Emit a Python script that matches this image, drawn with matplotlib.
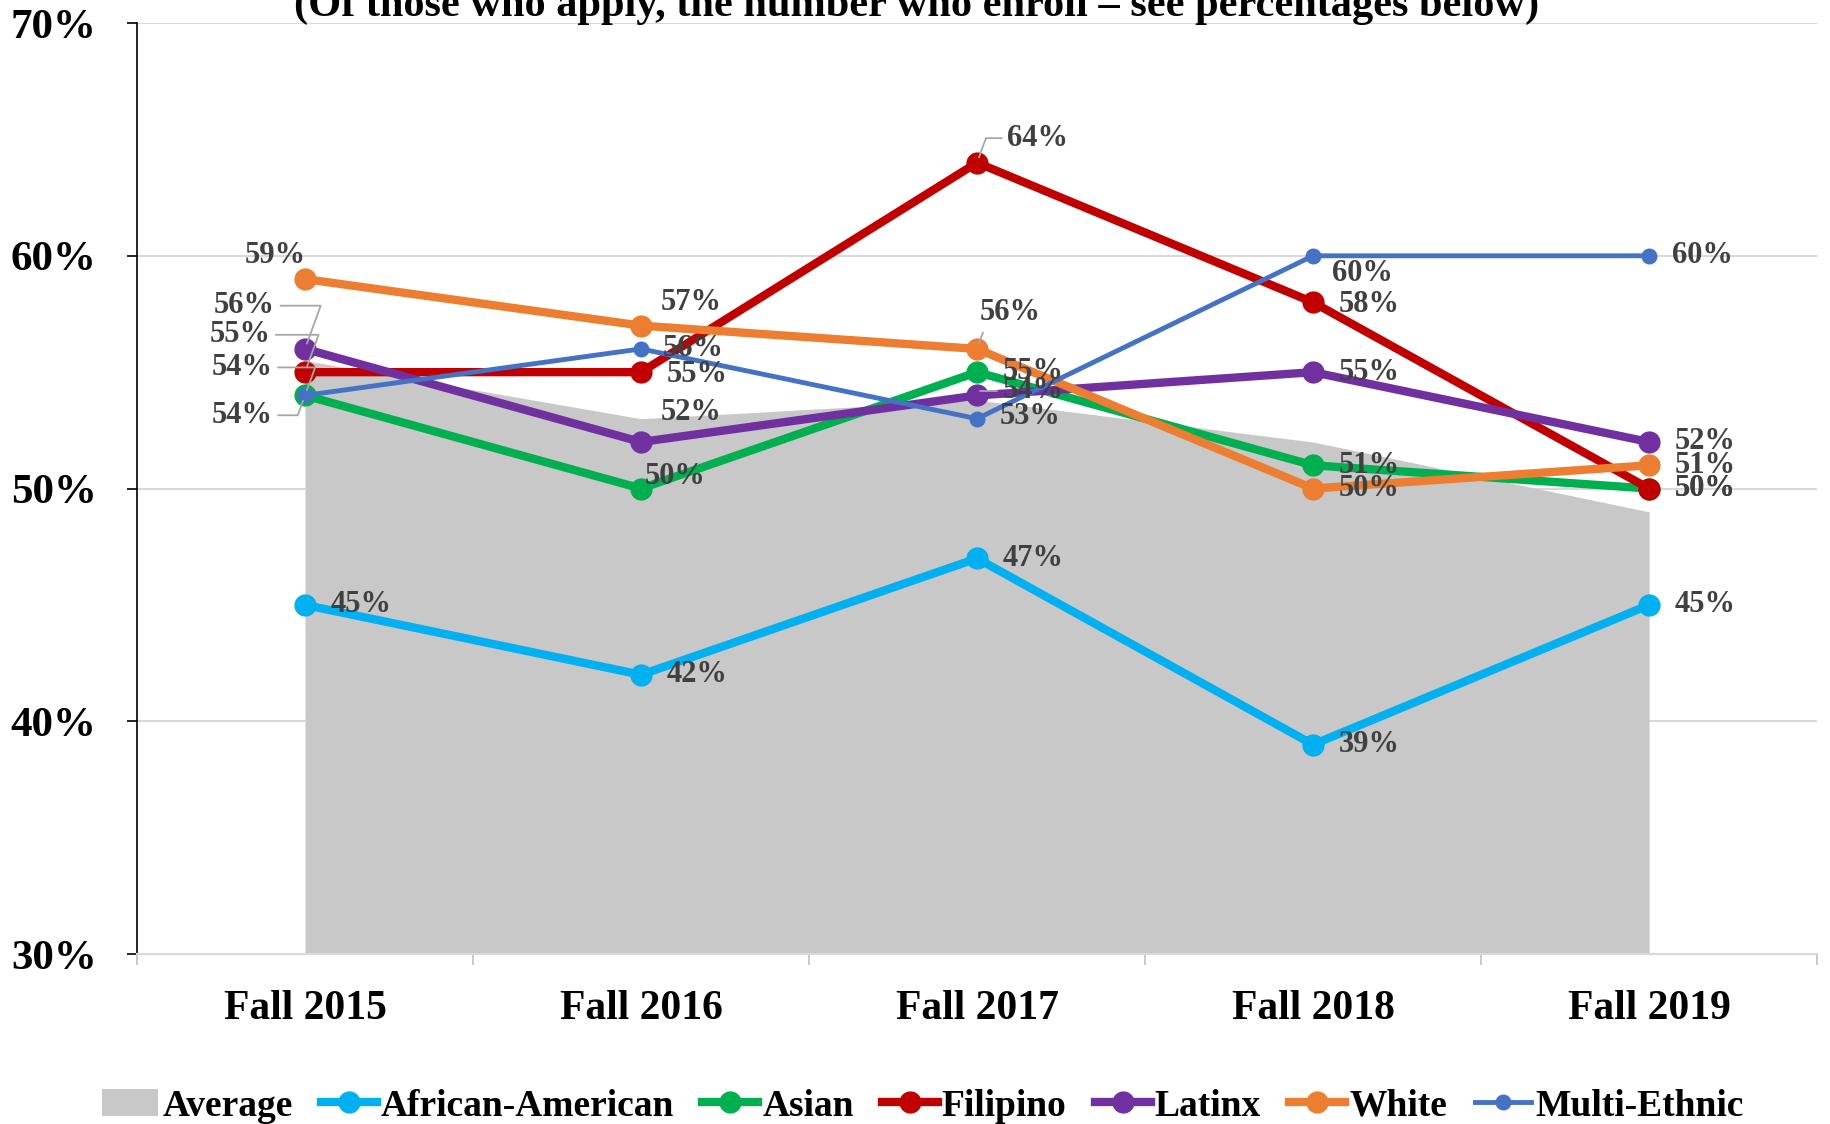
import matplotlib
matplotlib.use("Agg")
import matplotlib.pyplot as plt
from matplotlib.patches import Patch
from matplotlib.lines import Line2D

# Data (enrollment yield, %)
terms = ["Fall 2015", "Fall 2016", "Fall 2017", "Fall 2018", "Fall 2019"]
average = [55.5, 53.0, 53.8, 52.0, 49.0]
african_american = [45, 42, 47, 39, 45]
asian = [54, 50, 55, 51, 50]
filipino = [55, 55, 64, 58, 50]
latinx = [56, 52, 54, 55, 52]
white = [59, 57, 56, 50, 51]
multi_ethnic = [54, 56, 53, 60, 60]

title = "(Of those who apply, the number who enroll \u2013 see percentages below)"

# Style: name, values, colour, linewidth, markersize, label offsets (px in shrunk ref), leader flags
series = [
    ("African-American", african_american, "#00B0F0", 6.0, 15,
     [(22, 0), (22, 0), (22, 0), (22, 0), (22, 0)], [0, 0, 0, 0, 0]),
    ("Asian", asian, "#00B050", 6.0, 15,
     [(-80, 17), (3, -10), (22, -1), (22, 0), (22, 0)], [1, 0, 0, 0, 0]),
    ("Filipino", filipino, "#C00000", 6.0, 15,
     [(-82, -32), (22, 2), (26, -21), (22, 2), (22, 0)], [1, 0, 1, 0, 0]),
    ("Latinx", latinx, "#7030A0", 6.0, 15,
     [(-78, -37), (17, -25), (22, -4), (22, 0), (22, 0)], [1, 0, 1, 0, 0]),
    ("White", white, "#ED7D31", 6.0, 15,
     [(-52, -20), (17, -20), (2, -31), (22, 0), (22, 0)], [0, 0, 1, 0, 0]),
    ("Multi-Ethnic", multi_ethnic, "#4472C4", 3.5, 10.5,
     [(-80, -24), (19, 0), (19, -2), (16, 15), (20, 0)], [1, 0, 0, 0, 0]),
]

serif = ["Liberation Serif", "DejaVu Serif"]
plt.rcParams["font.family"] = serif
plt.rcParams["font.weight"] = "bold"

fig = plt.figure(figsize=(18.31, 11.24), dpi=100)
ax = fig.add_axes([0.0748, 0.1512, 0.9176, 0.8283])

x = list(range(len(terms)))
ax.fill_between(x, 30, average, color="#C8C8C8", linewidth=0, zorder=1)

scale = 1831 / 1568
for name, vals, col, lw, ms, offs, leads in series:
    ax.plot(x, vals, color=col, lw=lw, marker="o", ms=ms, zorder=3,
            solid_capstyle="round")
    for i, v in enumerate(vals):
        dx, dy = offs[i]
        kw = {}
        if leads[i]:
            kw["arrowprops"] = dict(arrowstyle="-", color="#A6A6A6", lw=1.3,
                                    shrinkA=2, shrinkB=4,
                                    connectionstyle="angle,angleA=0,angleB=70,rad=0")
        ax.annotate(f"{v}%", (i, v), xytext=(dx * scale, -dy * scale),
                    textcoords="offset pixels", ha="left", va="center",
                    fontsize=22, fontweight="bold", color="#404040",
                    zorder=5, **kw)

ax.set_xlim(-0.5, 4.5)
ax.set_ylim(30, 70)
ax.set_yticks([30, 40, 50, 60, 70])
ax.set_yticklabels([f"{t}%" for t in [30, 40, 50, 60, 70]])
ax.set_xticks(x)
ax.set_xticklabels(terms)
ax.set_xticks([-0.5, 0.5, 1.5, 2.5, 3.5, 4.5], minor=True)
ax.tick_params(axis="x", which="major", length=0, pad=26, labelsize=30)
ax.tick_params(axis="x", which="minor", length=8, color="#BFBFBF", width=1.2)
ax.tick_params(axis="y", length=7, width=1.2, pad=22, labelsize=31)
for lab in ax.get_xticklabels() + ax.get_yticklabels():
    lab.set_fontweight("bold")

ax.grid(axis="y", color="#D9D9D9", lw=1.5, zorder=0)
ax.set_axisbelow(True)
for s in ["top", "right"]:
    ax.spines[s].set_visible(False)
ax.spines["bottom"].set_color("#D9D9D9")
ax.spines["bottom"].set_linewidth(1.5)
ax.spines["left"].set_color("black")
ax.spines["left"].set_linewidth(1.2)

fig.text(0.5008, 0.9858, title, ha="center", va="baseline",
         fontsize=30.5, fontweight="bold", color="black")

handles = [Patch(facecolor="#C8C8C8", edgecolor="none")]
for name, vals, col, lw, ms, offs, leads in series:
    handles.append(Line2D([0], [0], color=col, lw=lw, marker="o", ms=ms))
names = ["Average"] + [s[0] for s in series]
fig.legend(handles, names, loc="center", bbox_to_anchor=(0.504, 0.016),
           ncol=7, frameon=False, handlelength=1.5,
           handletextpad=0.1, columnspacing=0.75,
           prop={"family": serif, "weight": "bold", "size": 27})

fig.savefig("out.png", dpi=100)
